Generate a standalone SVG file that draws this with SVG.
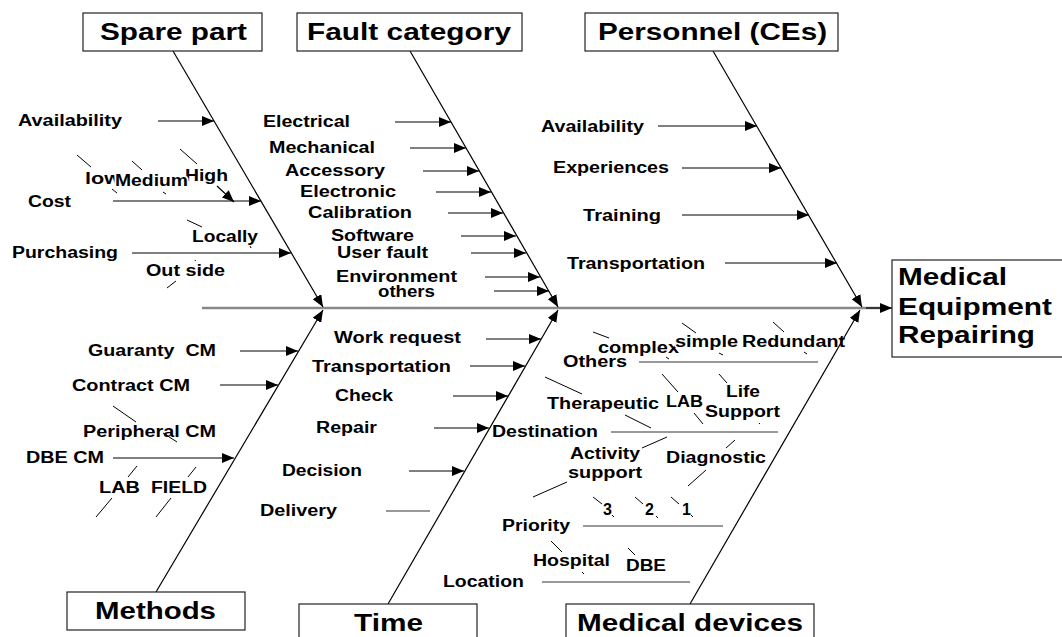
<svg xmlns="http://www.w3.org/2000/svg" width="1062" height="637" viewBox="0 0 1062 637">
  <style>
    text { font-family: "Liberation Sans", Arial, sans-serif; font-weight: bold; fill: #000; }
    .s { font-size: 16px; }
    .h { font-size: 23px; }
    .box { fill: #fff; stroke: #222; stroke-width: 1.2; }
    .bone { fill: none; stroke: #000; stroke-width: 1.2; }
    .arr { fill: none; stroke: #000; stroke-width: 1.2; marker-end: url(#ah); }
    .bar { fill: none; stroke: #777; stroke-width: 1.6; }
    .tick { fill: none; stroke: #000; stroke-width: 1; }
    .spine { fill: none; stroke: #888; stroke-width: 2.6; }
    .mask { stroke: #fff; stroke-width: 3; paint-order: stroke; }
  </style>
  <defs>
    <marker id="ah" viewBox="0 0 12 10" refX="12" refY="5" markerWidth="12" markerHeight="10" markerUnits="userSpaceOnUse" orient="auto">
      <path d="M0,0 L12,5 L0,10 Z" fill="#000"/>
    </marker>
  </defs>
  <rect width="1062" height="637" fill="#fff"/>

  <!-- connectors: spine, bones, branch arrows, leader ticks -->
  <g id="connectors">
    <line class="spine" x1="202" y1="308" x2="880" y2="308"/>
    <line class="arr" x1="866" y1="308" x2="892" y2="308"/>

    <!-- main bones -->
    <line class="arr" x1="173" y1="51" x2="323" y2="307"/>
    <line class="arr" x1="410" y1="51" x2="558" y2="307"/>
    <line class="arr" x1="713" y1="51" x2="862" y2="307"/>
    <line class="arr" x1="156" y1="592" x2="323" y2="310"/>
    <line class="arr" x1="388" y1="604" x2="558" y2="310"/>
    <line class="arr" x1="690" y1="604" x2="860" y2="310"/>

    <!-- spare part branches -->
    <line class="arr" x1="158" y1="121" x2="214" y2="121"/>
    <line class="arr" x1="113" y1="201" x2="261" y2="201"/>
    <line class="arr" x1="217" y1="186" x2="234" y2="202"/>
    <line class="arr" x1="132" y1="253" x2="291" y2="253"/>

    <!-- fault category branches -->
    <line class="arr" x1="395" y1="122" x2="451" y2="122"/>
    <line class="arr" x1="410" y1="148" x2="466" y2="148"/>
    <line class="arr" x1="423" y1="171" x2="479" y2="171"/>
    <line class="arr" x1="436" y1="192" x2="491" y2="192"/>
    <line class="arr" x1="448" y1="213" x2="503" y2="213"/>
    <line class="arr" x1="461" y1="236" x2="516" y2="236"/>
    <line class="arr" x1="471" y1="253" x2="526" y2="253"/>
    <line class="arr" x1="485" y1="277" x2="540" y2="277"/>
    <line class="arr" x1="494" y1="291" x2="549" y2="291"/>

    <!-- personnel branches -->
    <line class="arr" x1="658" y1="126" x2="757" y2="126"/>
    <line class="arr" x1="682" y1="168" x2="781" y2="168"/>
    <line class="arr" x1="682" y1="215" x2="809" y2="215"/>
    <line class="arr" x1="725" y1="263" x2="837" y2="263"/>

    <!-- methods branches -->
    <line class="arr" x1="240" y1="351" x2="298" y2="351"/>
    <line class="arr" x1="220" y1="385" x2="278" y2="385"/>
    <line class="arr" x1="113" y1="458" x2="234" y2="458"/>

    <!-- time branches -->
    <line class="arr" x1="486" y1="339" x2="541" y2="339"/>
    <line class="arr" x1="470" y1="366" x2="525" y2="366"/>
    <line class="arr" x1="453" y1="396" x2="508" y2="396"/>
    <line class="arr" x1="434" y1="428" x2="489" y2="428"/>
    <line class="arr" x1="409" y1="471" x2="464" y2="471"/>
    <line class="bar" x1="386" y1="511" x2="430" y2="511"/>

    <!-- medical devices branches -->
    <line class="bar" x1="639" y1="362" x2="818" y2="362"/>
    <line class="bar" x1="611" y1="432" x2="778" y2="432"/>
    <line class="bar" x1="583" y1="526" x2="723" y2="526"/>
    <line class="bar" x1="542" y1="582" x2="690" y2="582"/>

    <!-- leader ticks -->
    <path class="tick" d="M77,155 L91,167 M132,161 L142,170 M180,149 L197,164 M112,189 L117,193 M163,192 L166,194
      M187,220 L202,227 M250,246 L251,248 M167,288 L176,281 M195,260 L195.5,261
      M113,406 L136,422 M163,433 L177,442 M137,466 L128,477 M196,467 L188,477 M112,498 L96,517 M171,498 L156,517
      M593,332 L609,338 M682,323 L696,333 M773,322 L784,332 M666,357 L669,359 M719,353 L723,355 M804,352 L807,354
      M545,377 L582,394 M625,415 L651,428 M662,374 L678,392 M694,413 L703,424 M719,374 L727,383 M759,423 L760,424
      M642,448 L667,437 M567,482 L533,497 M726,448 L735,440 M706,470 L688,486
      M593,497 L602,504 M635,497 L643,504 M671,497 L679,504 M612,515 L614,517 M656,516 L658,518 M691,515 L693,517
      M551,541 L562,552 M582,572 L584,574 M628,548 L635,555"/>
  </g>

  <g id="spare-part">
    <rect class="box" x="83" y="13" width="179" height="38"/>
    <text class="h" x="100" y="40" textLength="147" lengthAdjust="spacingAndGlyphs">Spare part</text>
    <text class="s" x="18" y="126" textLength="104" lengthAdjust="spacingAndGlyphs">Availability</text>
    <text class="s" x="28" y="207" textLength="43" lengthAdjust="spacingAndGlyphs">Cost</text>
    <text class="s" x="85" y="184" textLength="36" lengthAdjust="spacingAndGlyphs">low</text>
    <text class="s" x="185" y="181" textLength="43" lengthAdjust="spacingAndGlyphs">High</text>
    <text class="s mask" x="115" y="186" textLength="73" lengthAdjust="spacingAndGlyphs">Medium</text>
    <text class="s" x="192" y="242" textLength="66" lengthAdjust="spacingAndGlyphs">Locally</text>
    <text class="s" x="12" y="258" textLength="106" lengthAdjust="spacingAndGlyphs">Purchasing</text>
    <text class="s" x="146" y="276" textLength="79" lengthAdjust="spacingAndGlyphs">Out side</text>
  </g>

  <g id="fault-category">
    <rect class="box" x="297" y="13" width="225" height="38"/>
    <text class="h" x="307" y="40" textLength="204" lengthAdjust="spacingAndGlyphs">Fault category</text>
    <text class="s" x="263" y="127" textLength="87" lengthAdjust="spacingAndGlyphs">Electrical</text>
    <text class="s" x="269" y="153" textLength="106" lengthAdjust="spacingAndGlyphs">Mechanical</text>
    <text class="s" x="285" y="176" textLength="100" lengthAdjust="spacingAndGlyphs">Accessory</text>
    <text class="s" x="300" y="197" textLength="96" lengthAdjust="spacingAndGlyphs">Electronic</text>
    <text class="s" x="308" y="218" textLength="104" lengthAdjust="spacingAndGlyphs">Calibration</text>
    <text class="s" x="331" y="241" textLength="83" lengthAdjust="spacingAndGlyphs">Software</text>
    <text class="s" x="337" y="258" textLength="91" lengthAdjust="spacingAndGlyphs">User fault</text>
    <text class="s" x="336" y="282" textLength="121" lengthAdjust="spacingAndGlyphs">Environment</text>
    <text class="s" x="378" y="297" textLength="57" lengthAdjust="spacingAndGlyphs">others</text>
  </g>

  <g id="personnel">
    <rect class="box" x="585" y="13" width="253" height="38"/>
    <text class="h" x="598" y="40" textLength="229" lengthAdjust="spacingAndGlyphs">Personnel (CEs)</text>
    <text class="s" x="541" y="132" textLength="103" lengthAdjust="spacingAndGlyphs">Availability</text>
    <text class="s" x="553" y="173" textLength="116" lengthAdjust="spacingAndGlyphs">Experiences</text>
    <text class="s" x="583" y="221" textLength="78" lengthAdjust="spacingAndGlyphs">Training</text>
    <text class="s" x="567" y="269" textLength="138" lengthAdjust="spacingAndGlyphs">Transportation</text>
  </g>

  <g id="methods">
    <rect class="box" x="67" y="592" width="178" height="38"/>
    <text class="h" x="95" y="619" textLength="121" lengthAdjust="spacingAndGlyphs">Methods</text>
    <text class="s" x="88" y="356" textLength="128" lengthAdjust="spacingAndGlyphs" xml:space="preserve">Guaranty  CM</text>
    <text class="s" x="72" y="391" textLength="118" lengthAdjust="spacingAndGlyphs">Contract CM</text>
    <text class="s" x="83" y="437" textLength="133" lengthAdjust="spacingAndGlyphs">Peripheral CM</text>
    <text class="s" x="26" y="463" textLength="78" lengthAdjust="spacingAndGlyphs">DBE CM</text>
    <text class="s" x="99" y="493" textLength="41" lengthAdjust="spacingAndGlyphs">LAB</text>
    <text class="s" x="151" y="493" textLength="56" lengthAdjust="spacingAndGlyphs">FIELD</text>
  </g>

  <g id="time">
    <rect class="box" x="299" y="604" width="178" height="40"/>
    <text class="h" x="354" y="631" textLength="69" lengthAdjust="spacingAndGlyphs">Time</text>
    <text class="s" x="334" y="343" textLength="127" lengthAdjust="spacingAndGlyphs">Work request</text>
    <text class="s" x="312" y="372" textLength="139" lengthAdjust="spacingAndGlyphs">Transportation</text>
    <text class="s" x="335" y="401" textLength="58" lengthAdjust="spacingAndGlyphs">Check</text>
    <text class="s" x="316" y="433" textLength="61" lengthAdjust="spacingAndGlyphs">Repair</text>
    <text class="s" x="282" y="476" textLength="80" lengthAdjust="spacingAndGlyphs">Decision</text>
    <text class="s" x="260" y="516" textLength="77" lengthAdjust="spacingAndGlyphs">Delivery</text>
  </g>

  <g id="medical-devices">
    <rect class="box" x="566" y="604" width="248" height="40"/>
    <text class="h" x="577" y="631" textLength="226" lengthAdjust="spacingAndGlyphs">Medical devices</text>
    <text class="s" x="598" y="353" textLength="81" lengthAdjust="spacingAndGlyphs">complex</text>
    <text class="s mask" x="675" y="347" textLength="63" lengthAdjust="spacingAndGlyphs">simple</text>
    <text class="s" x="742" y="347" textLength="103" lengthAdjust="spacingAndGlyphs">Redundant</text>
    <text class="s" x="563" y="367" textLength="64" lengthAdjust="spacingAndGlyphs">Others</text>
    <text class="s" x="547" y="409" textLength="112" lengthAdjust="spacingAndGlyphs">Therapeutic</text>
    <text class="s" x="666" y="407" textLength="37" lengthAdjust="spacingAndGlyphs">LAB</text>
    <text class="s" x="726" y="397" textLength="34" lengthAdjust="spacingAndGlyphs">Life</text>
    <text class="s" x="705" y="417" textLength="75" lengthAdjust="spacingAndGlyphs">Support</text>
    <text class="s" x="492" y="437" textLength="106" lengthAdjust="spacingAndGlyphs">Destination</text>
    <text class="s" x="570" y="459" textLength="70" lengthAdjust="spacingAndGlyphs">Activity</text>
    <text class="s" x="568" y="478" textLength="74" lengthAdjust="spacingAndGlyphs">support</text>
    <text class="s" x="666" y="463" textLength="100" lengthAdjust="spacingAndGlyphs">Diagnostic</text>
    <text class="s" x="603" y="515">3</text>
    <text class="s" x="645" y="515">2</text>
    <text class="s" x="682" y="515">1</text>
    <text class="s" x="502" y="531" textLength="68" lengthAdjust="spacingAndGlyphs">Priority</text>
    <text class="s" x="533" y="566" textLength="77" lengthAdjust="spacingAndGlyphs">Hospital</text>
    <text class="s" x="626" y="571" textLength="40" lengthAdjust="spacingAndGlyphs">DBE</text>
    <text class="s" x="443" y="587" textLength="81" lengthAdjust="spacingAndGlyphs">Location</text>
  </g>

  <g id="medical-equipment-repairing">
    <rect class="box" x="892" y="260" width="175" height="97"/>
    <text class="h" x="898" y="285" textLength="109" lengthAdjust="spacingAndGlyphs">Medical</text>
    <text class="h" x="898" y="315" textLength="154" lengthAdjust="spacingAndGlyphs">Equipment</text>
    <text class="h" x="898" y="343" textLength="137" lengthAdjust="spacingAndGlyphs">Repairing</text>
  </g>
</svg>
